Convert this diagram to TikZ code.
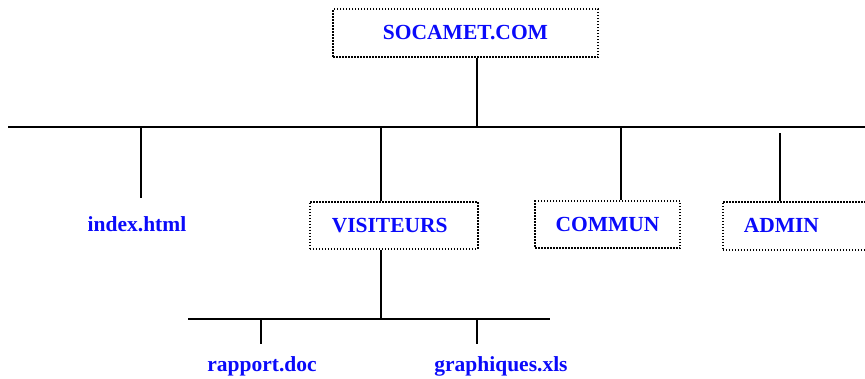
\documentclass[tikz,border=0pt]{standalone}
\usepackage{fontspec}
\setmainfont{Liberation Serif}
\definecolor{lblue}{RGB}{10,10,250}
\begin{document}
\begin{tikzpicture}[x=1pt,y=-1pt,
  lbl/.style={font=\fontsize{21.5}{24}\selectfont\bfseries, text=lblue, inner sep=0pt},
  dbox/.style={lbl, draw=black, line width=1.5pt, dash pattern=on 1.5pt off 1.5pt, inner sep=0pt},
  wire/.style={line width=1.6pt, draw=black}]
\useasboundingbox (0,0) rectangle (865,378);
% boxes
\node[dbox, minimum width=265pt, minimum height=48pt] (soc) at (465.5,33) {SOCAMET.COM};
\node[dbox, anchor=north west, minimum height=47pt, text width=124pt, align=left, inner xsep=22pt] (vis) at (309,201) {VISITEURS};
\node[dbox, minimum width=145pt, minimum height=47pt] (com) at (607.5,224.5) {COMMUN};
\node[dbox, anchor=north west, minimum height=48pt, text width=106pt, align=left, inner xsep=21pt] (adm) at (722,201) {ADMIN};
% plain labels
\node[lbl] (idx) at (137,224) {index.html};
\node[lbl] (rap) at (262,366) {rapport.doc};
\node[lbl] (gra) at (501,366) {graphiques.xls};
% bus coordinates
\coordinate (busL) at (8,127);
\coordinate (busR) at (866,127);
\coordinate (busTop) at (477,127);
\coordinate (idxTop) at (141,127);
\coordinate (idxEnd) at (141,198);
\coordinate (visTop) at (381,127);
\coordinate (comTop) at (621,127);
\coordinate (admTop) at (780,133);
\coordinate (sub) at (381,319);
\coordinate (subL) at (188,319);
\coordinate (subR) at (550,319);
\coordinate (rapTop) at (261,319);
\coordinate (rapEnd) at (261,344);
\coordinate (graTop) at (477,319);
\coordinate (graEnd) at (477,344);
% connectors
\draw[wire] (soc.south -| busTop) -- (busTop);
\draw[wire] (busL) -- (busR);
\draw[wire] (idxTop) -- (idxEnd);
\draw[wire] (visTop) -- (vis.north -| visTop);
\draw[wire] (comTop) -- (com.north -| comTop);
\draw[wire] (admTop) -- (adm.north -| admTop);
\draw[wire] (vis.south -| sub) -- (sub);
\draw[wire] (subL) -- (subR);
\draw[wire] (rapTop) -- (rapEnd);
\draw[wire] (graTop) -- (graEnd);
\end{tikzpicture}
\end{document}
